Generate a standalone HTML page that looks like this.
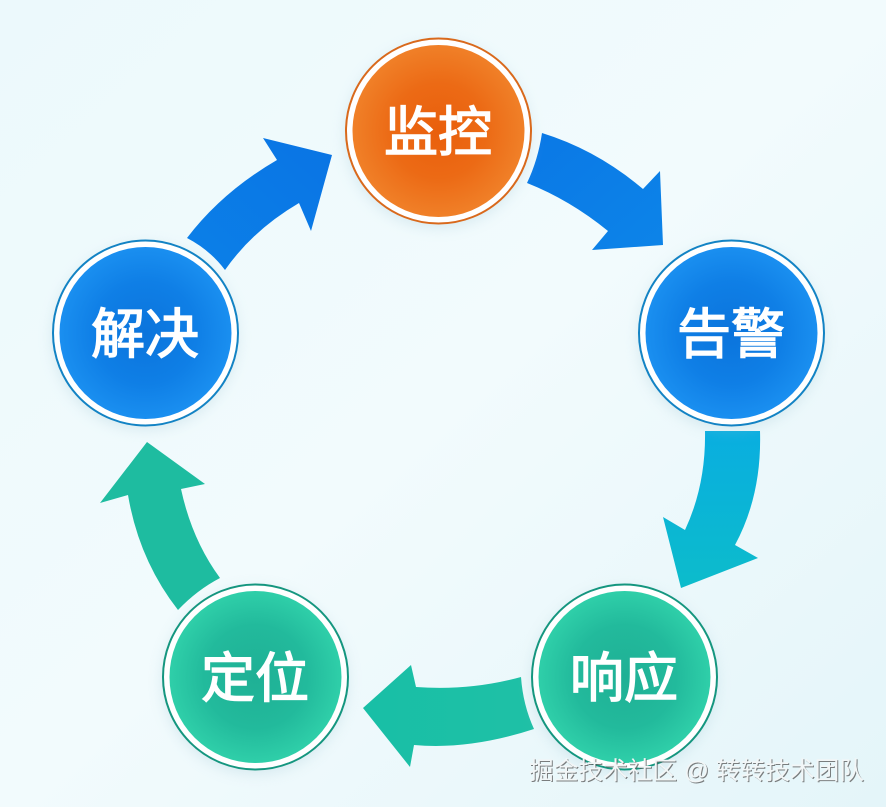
<!DOCTYPE html>
<html><head><meta charset="utf-8"><style>
html,body{margin:0;padding:0;width:886px;height:807px;overflow:hidden;background:#eef9fc}
svg{display:block}
text{font-family:"Liberation Sans","Noto Sans CJK SC",sans-serif}
</style></head><body>
<svg width="886" height="807" viewBox="0 0 886 807" xmlns="http://www.w3.org/2000/svg">
<defs>
<linearGradient id="bg" x1="0" y1="0" x2="1" y2="1"><stop offset="0" stop-color="#ecf9fc"/><stop offset=".5" stop-color="#f2fbfd"/><stop offset="1" stop-color="#e4f5f9"/></linearGradient>
<radialGradient id="o"><stop offset="0" stop-color="#e95f0c"/><stop offset=".55" stop-color="#ec6a15"/><stop offset="1" stop-color="#f08028"/></radialGradient>
<radialGradient id="b"><stop offset="0" stop-color="#0b74dc"/><stop offset=".6" stop-color="#0f7fe6"/><stop offset="1" stop-color="#1a8ff0"/></radialGradient>
<radialGradient id="g"><stop offset="0" stop-color="#1fb095"/><stop offset=".6" stop-color="#22ba9c"/><stop offset="1" stop-color="#2fcfa9"/></radialGradient>
<linearGradient id="a1" x1="0" y1="0" x2="1" y2="1"><stop offset="0" stop-color="#0a78e6"/><stop offset="1" stop-color="#0d84e8"/></linearGradient>
<linearGradient id="a2" x1="0" y1="0" x2="0" y2="1"><stop offset="0" stop-color="#09aee0"/><stop offset="1" stop-color="#0cbccb"/></linearGradient>
<linearGradient id="a3" x1="1" y1="0" x2="0" y2="0"><stop offset="0" stop-color="#1fc0a6"/><stop offset="1" stop-color="#18bfa6"/></linearGradient>
<linearGradient id="a5" x1="0" y1="1" x2="1" y2="0"><stop offset="0" stop-color="#0b80e8"/><stop offset="1" stop-color="#0a74e4"/></linearGradient>
<filter id="sh" x="-20%" y="-20%" width="140%" height="140%"><feGaussianBlur stdDeviation="7"/></filter>
</defs>
<rect width="886" height="807" fill="url(#bg)"/>

<path fill="url(#a1)" d="M542 133Q597 150 643 189L660 171L663 245L592 250L608 231Q570 200 527 183Q538 160 542 133Z"/>
<path fill="url(#a2)" d="M705 431L760 431Q762 495 735 545L758 558L681 588L663 517L685 530Q706 485 705 431Z"/>
<path fill="url(#a3)" d="M521 677Q523 705 534 729Q470 750 414 745L410 767L363 708L411 665L416 687Q470 691 521 677Z"/>
<path fill="#1ebca0" d="M178 610Q139 560 128 495L100 503L147 442L205 484L181 489Q192 540 220 578Q197 590 178 610Z"/>
<path fill="url(#a5)" d="M187 238Q222 192 277 160L263 138L332 155L311 231L299 203Q253 230 225 270Q210 250 187 238Z"/>

<g fill="#9fc4d2" opacity=".3" filter="url(#sh)">
<circle cx="438" cy="135" r="93"/><circle cx="731" cy="337" r="93"/><circle cx="624" cy="681" r="93"/><circle cx="255" cy="681" r="93"/><circle cx="145" cy="337" r="93"/>
</g>

<g stroke-width="2">
<circle cx="438.500" cy="131" r="92.500" fill="#fff" stroke="#d9691c"/><circle cx="438.500" cy="131" r="86" fill="url(#o)"/>
<circle cx="731.500" cy="333" r="92.500" fill="#fff" stroke="#1383c4"/><circle cx="731.500" cy="333" r="86" fill="url(#b)"/>
<circle cx="624.500" cy="677" r="92.500" fill="#fff" stroke="#15967f"/><circle cx="624.500" cy="677" r="86" fill="url(#g)"/>
<circle cx="255.500" cy="677" r="92.500" fill="#fff" stroke="#15967f"/><circle cx="255.500" cy="677" r="86" fill="url(#g)"/>
<circle cx="145.500" cy="333" r="92.500" fill="#fff" stroke="#1383c4"/><circle cx="145.500" cy="333" r="86" fill="url(#b)"/>
</g>

<g fill="#fff" stroke="#fff" stroke-width="1.400" font-size="54" font-weight="400" text-anchor="middle">
<text x="438" y="151">监控</text>
<text x="731" y="353">告警</text>
<text x="624" y="697">响应</text>
<text x="255" y="697">定位</text>
<text x="145" y="353">解决</text>
</g>

<text x="529" y="779" font-size="24.700" fill="#555" opacity=".75" transform="translate(1 1)" xml:space="preserve">掘金技术社区 @ 转转技术团队</text>
<text x="529" y="779" font-size="24.700" fill="#f2f6f7" xml:space="preserve">掘金技术社区 @ 转转技术团队</text>
</svg>
</body></html>
